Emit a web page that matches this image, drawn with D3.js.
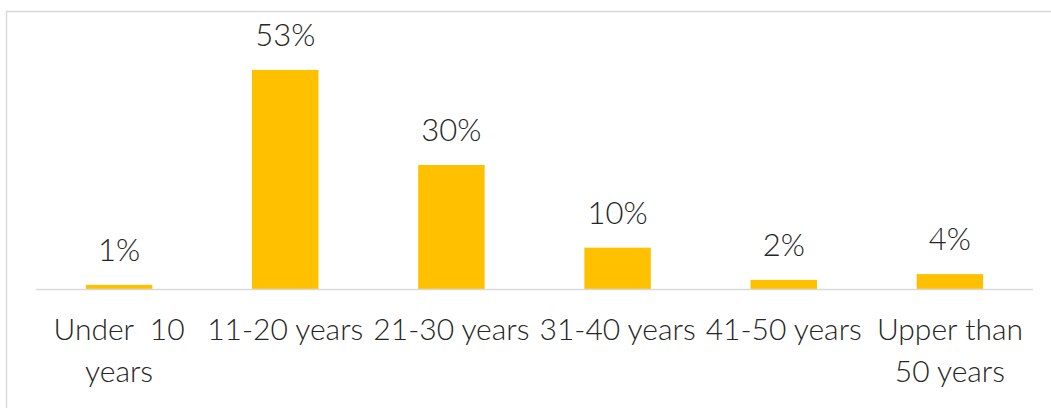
<!DOCTYPE html>
<html>
<head>
<meta charset="utf-8">
<script src="https://cdn.jsdelivr.net/npm/d3@7"></script>
<style>
  html, body { margin: 0; padding: 0; background: #fff; }
  svg { display: block; }
  text { font-family: Lato, "Open Sans", sans-serif; font-weight: 300; fill: #262626; white-space: pre; }
</style>
</head>
<body>
<svg id="chart" width="1051" height="408"></svg>
<script>
const categories = ["Under 10 years", "11-20 years", "21-30 years", "31-40 years", "41-50 years", "Upper than 50 years"];
const categoryLines = [["Under  10", "years"], ["11-20 years"], ["21-30 years"], ["31-40 years"], ["41-50 years"], ["Upper than", "50 years"]];
const values = [1.0, 53, 30, 10, 2.2, 3.6];
const valueLabels = ["1%", "53%", "30%", "10%", "2%", "4%"];

const W = 1051, H = 408;
const svg = d3.select("#chart");

// outer frame (only top and left visible in reference)
svg.append("rect")
  .attr("x", 6.5).attr("y", 11.5)
  .attr("width", W + 20).attr("height", H + 20)
  .attr("fill", "none").attr("stroke", "#d9d9d9").attr("stroke-width", 1.5);

const x = d3.scaleBand().domain(categories).range([36, 1033]).paddingInner(0.6).paddingOuter(0.3);
const y = d3.scaleLinear().domain([0, 60]).range([289, 41]);

svg.append("g").selectAll("rect").data(values).join("rect")
  .attr("x", (d, i) => x(categories[i]))
  .attr("y", d => y(d))
  .attr("width", x.bandwidth())
  .attr("height", d => y(0) - y(d))
  .attr("fill", "#FFC000");

// baseline
svg.append("line")
  .attr("x1", 36).attr("x2", 1033)
  .attr("y1", 289.5).attr("y2", 289.5)
  .attr("stroke", "#d9d9d9").attr("stroke-width", 1.5);

// value labels
svg.append("g").selectAll("text").data(values).join("text")
  .attr("x", (d, i) => x(categories[i]) + x.bandwidth() / 2)
  .attr("y", d => y(d) - 24)
  .attr("text-anchor", "middle")
  .attr("font-size", 31)
  .text((d, i) => valueLabels[i]);

// category labels
const cat = svg.append("g").selectAll("text").data(categories).join("text")
  .attr("x", d => x(d) + x.bandwidth() / 2)
  .attr("y", 340)
  .attr("text-anchor", "middle")
  .attr("font-size", 30);
cat.each(function(d, i) {
  const t = d3.select(this);
  categoryLines[i].forEach((line, j) => {
    t.append("tspan")
      .attr("x", x(d) + x.bandwidth() / 2)
      .attr("dy", j === 0 ? 0 : 41.5)
      .text(line);
  });
});
</script>
</body>
</html>
